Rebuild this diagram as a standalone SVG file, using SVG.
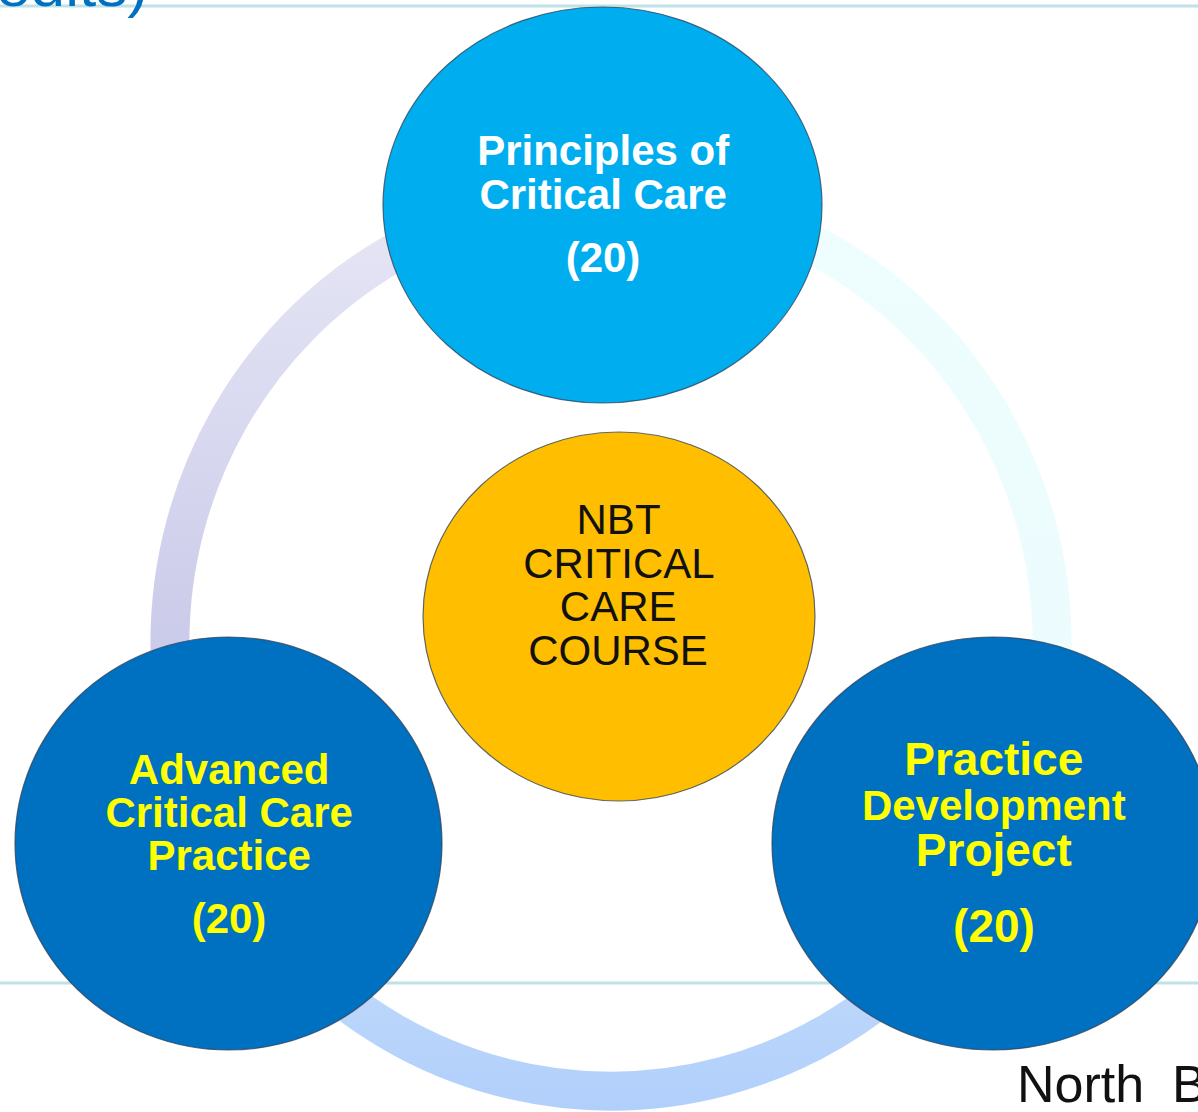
<svg xmlns="http://www.w3.org/2000/svg" width="1198" height="1112" viewBox="0 0 1198 1112">
  <style>
    .rule { stroke: #bfe2e6; stroke-width: 3; fill: none; }
    .band { fill: none; stroke-width: 39; }
    .node { stroke: #2e3f55; stroke-opacity: 0.75; stroke-width: 1.2; }
    .lbl { font-family: "Liberation Sans", Arial, sans-serif; text-anchor: middle; }
    .bold { font-weight: bold; }
  </style>
  <defs>
    <linearGradient id="gLeft" gradientUnits="userSpaceOnUse" x1="0" y1="195" x2="0" y2="867">
      <stop offset="0" stop-color="#e7e7f6"/>
      <stop offset="1" stop-color="#bdbde4"/>
    </linearGradient>
    <linearGradient id="gRight" gradientUnits="userSpaceOnUse" x1="0" y1="195" x2="0" y2="867">
      <stop offset="0" stop-color="#eefdfe"/>
      <stop offset="1" stop-color="#ebfcfe"/>
    </linearGradient>
    <linearGradient id="gBottom" gradientUnits="userSpaceOnUse" x1="0" y1="867" x2="0" y2="1112">
      <stop offset="0" stop-color="#cadffa"/>
      <stop offset="1" stop-color="#b0cffb"/>
    </linearGradient>
  </defs>

  <rect width="1198" height="1112" fill="#ffffff"/>

  <!-- slide rules and header/footer text -->
  <line class="rule" x1="0" y1="6" x2="1198" y2="6"/>
  <line class="rule" x1="0" y1="983" x2="1198" y2="983"/>
  <text x="-4" y="6" font-family="Liberation Sans, Arial, sans-serif" font-size="58" fill="#0070c0" textLength="152" lengthAdjust="spacingAndGlyphs">edits)</text>
  <text y="1102" font-family="Liberation Sans, Arial, sans-serif" font-size="52" fill="#111111"><tspan x="1017">North</tspan><tspan x="1172">Br</tspan></text>

  <!-- cycle connectors -->
  <g id="connectors">
    <path class="band" stroke="url(#gLeft)" d="M611,195 A441,448 0 0 0 229,867"/>
    <path class="band" stroke="url(#gRight)" d="M611,195 A441,448 0 0 1 993,867"/>
    <path class="band" stroke="url(#gBottom)" d="M229,867 A441,448 0 0 0 993,867"/>
  </g>

  <!-- top module -->
  <g id="principles">
    <ellipse class="node" cx="602.5" cy="205" rx="219.5" ry="198" fill="#00aeef"/>
    <text class="lbl bold" font-size="42" fill="#ffffff">
      <tspan x="609" y="165">Principles of</tspan>
      <tspan x="609" y="209">Critical Care</tspan>
      <tspan x="603" y="272">(20)</tspan>
    </text>
  </g>

  <!-- centre -->
  <g id="course">
    <ellipse class="node" cx="619" cy="616.5" rx="196" ry="184.5" fill="#ffbf00"/>
    <text class="lbl" font-size="42" fill="#111111">
      <tspan x="624" y="534">NBT</tspan>
      <tspan x="624" y="578">CRITICAL</tspan>
      <tspan x="624" y="621">CARE</tspan>
      <tspan x="618" y="665">COURSE</tspan>
    </text>
  </g>

  <!-- lower left module -->
  <g id="advanced">
    <ellipse class="node" cx="228.5" cy="843.5" rx="213.5" ry="206.5" fill="#0070c0"/>
    <text class="lbl bold" font-size="42" fill="#ffff00">
      <tspan x="235" y="784">Advanced</tspan>
      <tspan x="235" y="827">Critical Care</tspan>
      <tspan x="235" y="870">Practice</tspan>
      <tspan x="229" y="933">(20)</tspan>
    </text>
  </g>

  <!-- lower right module -->
  <g id="project">
    <ellipse class="node" cx="993" cy="843.5" rx="221" ry="206.5" fill="#0070c0"/>
    <text class="lbl bold" fill="#ffff00">
      <tspan x="996" y="775" font-size="46">Practice</tspan>
      <tspan x="996" y="820" font-size="42">Development</tspan>
      <tspan x="996" y="866" font-size="46">Project</tspan>
      <tspan x="994" y="942" font-size="46">(20)</tspan>
    </text>
  </g>
</svg>
